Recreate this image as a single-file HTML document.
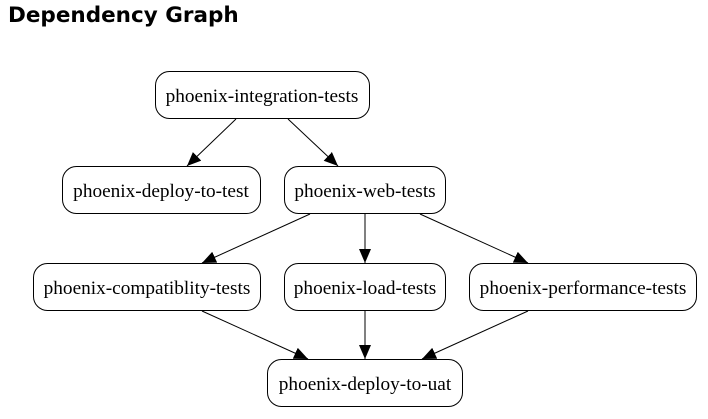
<!DOCTYPE html>
<html><head><meta charset="utf-8"><style>
body{margin:0;background:#fff;width:708px;height:419px;overflow:hidden}
h1{position:absolute;left:8px;top:3px;margin:0;font:bold 21.5px "DejaVu Sans",sans-serif;color:#000;letter-spacing:0}
svg{position:absolute;left:0;top:0}
text{font-family:"Liberation Serif",serif;font-size:19.3px;text-anchor:middle}
</style></head><body>
<h1>Dependency Graph</h1>
<svg width="708" height="419">
<defs><marker id="a" viewBox="0 0 14 12" refX="14" refY="6" markerWidth="14" markerHeight="12" markerUnits="userSpaceOnUse" orient="auto"><path d="M0,0L14,6L0,12z" fill="#000"/></marker></defs>
<g fill="#fff" stroke="#000" stroke-width="1">
<rect x="155.5" y="71.5" width="214" height="47" rx="14"/>
<rect x="62.5" y="166.5" width="198" height="47" rx="14"/>
<rect x="284.5" y="166.5" width="161" height="47" rx="14"/>
<rect x="33.5" y="263.5" width="227" height="47" rx="14"/>
<rect x="284.5" y="263.5" width="161" height="47" rx="14"/>
<rect x="469.5" y="263.5" width="227" height="47" rx="14"/>
<rect x="267.5" y="359.5" width="195" height="47" rx="14"/>
</g>
<g stroke="#000" stroke-width="1" marker-end="url(#a)">
<line x1="236" y1="119" x2="187" y2="166"/>
<line x1="288" y1="119" x2="338" y2="166"/>
<line x1="310" y1="214" x2="202" y2="263"/>
<line x1="365" y1="214" x2="365" y2="263"/>
<line x1="420" y1="214" x2="528" y2="263"/>
<line x1="202" y1="311" x2="308" y2="359"/>
<line x1="365" y1="311" x2="365" y2="359"/>
<line x1="528" y1="311" x2="422" y2="359"/>
</g>
<text x="262" y="102">phoenix-integration-tests</text>
<text x="161" y="197">phoenix-deploy-to-test</text>
<text x="365" y="197">phoenix-web-tests</text>
<text x="147" y="294">phoenix-compatiblity-tests</text>
<text x="365" y="294">phoenix-load-tests</text>
<text x="583" y="294">phoenix-performance-tests</text>
<text x="365" y="390">phoenix-deploy-to-uat</text>
</svg>
</body></html>
